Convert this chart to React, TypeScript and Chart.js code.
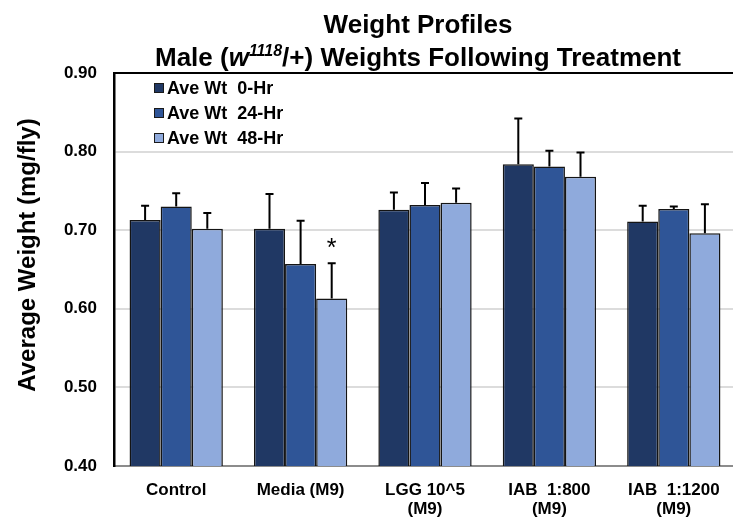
import React, { useEffect, useRef } from "react";
import { Chart, registerables } from "chart.js";

Chart.register(...registerables);

// ---- data ----
const categories: (string | string[])[] = [
  "Control",
  "Media (M9)",
  ["LGG 10^5", "(M9)"],
  ["IAB  1:800", "(M9)"],
  ["IAB  1:1200", "(M9)"],
];
const seriesLabels = ["Ave Wt  0-Hr", "Ave Wt  24-Hr", "Ave Wt  48-Hr"];
const seriesColors = ["#203864", "#2F5597", "#8FAADC"];
const wt0 = [0.713, 0.702, 0.726, 0.784, 0.711];
const wt24 = [0.73, 0.657, 0.732, 0.781, 0.727];
const wt48 = [0.702, 0.613, 0.735, 0.768, 0.696];
const err0 = [0.018, 0.044, 0.022, 0.058, 0.02];
const err24 = [0.017, 0.055, 0.028, 0.02, 0.003];
const err48 = [0.02, 0.045, 0.018, 0.031, 0.037];
const yMin = 0.4;
const yMax = 0.9;
const yStep = 0.1;
const titleText = "Weight Profiles";
const yTitleText = "Average Weight (mg/fly)";
// significance marker: series index, category index
const sigMarks = [{ series: 2, index: 1, mark: "*" }];

const FONT = "'Liberation Sans', Arial, Helvetica, sans-serif";

const decorPlugin = {
  id: "decor",
  afterDatasetsDraw(chart: any) {
    const ctx = chart.ctx as CanvasRenderingContext2D;
    const yScale = chart.scales.y;
    ctx.save();
    ctx.strokeStyle = "#000";
    ctx.lineWidth = 2;
    chart.data.datasets.forEach((ds: any, di: number) => {
      const meta = chart.getDatasetMeta(di);
      meta.data.forEach((bar: any, i: number) => {
        const v = ds.data[i];
        const e = ds.errors[i];
        const yTop = yScale.getPixelForValue(v + e);
        ctx.beginPath();
        ctx.moveTo(bar.x, bar.y);
        ctx.lineTo(bar.x, yTop);
        ctx.moveTo(bar.x - 4, yTop);
        ctx.lineTo(bar.x + 4, yTop);
        ctx.stroke();
      });
    });
    // significance marks
    ctx.fillStyle = "#000";
    ctx.font = `25px ${FONT}`;
    ctx.textAlign = "center";
    ctx.textBaseline = "alphabetic";
    sigMarks.forEach((m) => {
      const ds = chart.data.datasets[m.series];
      const bar = chart.getDatasetMeta(m.series).data[m.index];
      const yTop = yScale.getPixelForValue(ds.data[m.index] + ds.errors[m.index]);
      ctx.fillText(m.mark, bar.x, yTop - 7);
    });
    ctx.restore();
  },
  afterDraw(chart: any) {
    const ctx = chart.ctx as CanvasRenderingContext2D;
    const area = chart.chartArea;
    ctx.save();
    // top border
    ctx.strokeStyle = "#000";
    ctx.lineWidth = 2;
    ctx.beginPath();
    ctx.moveTo(area.left - 1, area.top);
    ctx.lineTo(area.right, area.top);
    ctx.stroke();

    const cx = (area.left + area.right) / 2 - 7;
    // main title
    ctx.fillStyle = "#000";
    ctx.textAlign = "center";
    ctx.textBaseline = "alphabetic";
    ctx.font = `bold 26px ${FONT}`;
    ctx.fillText(titleText, cx, 33);

    // subtitle with italic + superscript
    const parts = [
      { t: "Male (", f: `bold 26px ${FONT}`, dy: 0 },
      { t: "w", f: `italic bold 26px ${FONT}`, dy: 0 },
      { t: "1118", f: `italic bold 16px ${FONT}`, dy: -10 },
      { t: "/+) Weights Following Treatment", f: `bold 26px ${FONT}`, dy: 0 },
    ];
    let total = 0;
    parts.forEach((p) => {
      ctx.font = p.f;
      total += ctx.measureText(p.t).width;
    });
    let x = cx - total / 2;
    ctx.textAlign = "left";
    parts.forEach((p) => {
      ctx.font = p.f;
      ctx.fillText(p.t, x, 66 + p.dy);
      x += ctx.measureText(p.t).width;
    });

    // y axis title
    ctx.save();
    ctx.translate(28, 255);
    ctx.rotate(-Math.PI / 2);
    ctx.textAlign = "center";
    ctx.textBaseline = "middle";
    ctx.font = `bold 24px ${FONT}`;
    ctx.fillText(yTitleText, 0, 0);
    ctx.restore();

    // legend (inside plot, top-left)
    const lx = area.left + 40;
    const ly = area.top + 15;
    chart.data.datasets.forEach((ds: any, i: number) => {
      const yy = ly + i * 25;
      ctx.fillStyle = ds.backgroundColor;
      ctx.fillRect(lx, yy - 5, 10, 10);
      ctx.strokeStyle = "#1a1a1a";
      ctx.lineWidth = 1;
      ctx.strokeRect(lx + 0.5, yy - 4.5, 9, 9);
      ctx.fillStyle = "#000";
      ctx.font = `bold 18px ${FONT}`;
      ctx.textAlign = "left";
      ctx.textBaseline = "middle";
      ctx.fillText(ds.label, lx + 13, yy + 1);
    });
    ctx.restore();
  },
};

export default function App() {
  const ref = useRef<HTMLCanvasElement | null>(null);
  useEffect(() => {
    if (!ref.current) return;
    const values = [wt0, wt24, wt48];
    const errors = [err0, err24, err48];
    const chart = new Chart(ref.current, {
      type: "bar",
      data: {
        labels: categories,
        datasets: values.map((v, i) => ({
          label: seriesLabels[i],
          data: v,
          errors: errors[i],
          backgroundColor: seriesColors[i],
          borderColor: "#141414",
          borderWidth: 1.5,
          barPercentage: 1,
          categoryPercentage: 0.75,
        })) as any,
      },
      options: {
        responsive: false,
        animation: false,
        devicePixelRatio: 1,
        layout: { padding: { top: 73, right: 2, left: 0, bottom: 0 } },
        plugins: {
          legend: { display: false },
          title: { display: false },
          tooltip: { enabled: false },
        },
        scales: {
          x: {
            grid: { display: false, drawTicks: false },
            border: { display: true, color: "#8c8c8c", width: 2 },
            ticks: {
              color: "#000",
              font: { family: FONT, size: 17, weight: "bold", lineHeight: 1.1 },
              padding: 15,
              maxRotation: 0,
              autoSkip: false,
            },
            afterFit: (s: any) => {
              s.height = 51;
            },
          },
          y: {
            min: yMin,
            max: yMax,
            ticks: {
              stepSize: yStep,
              color: "#000",
              font: { family: FONT, size: 17, weight: "bold" },
              padding: 17,
              callback: (v: any) => Number(v).toFixed(2),
            },
            grid: {
              color: (c: any) =>
                c.tick && c.tick.value > yMin + 0.01 && c.tick.value < yMax - 0.01
                  ? "#dcdcdc"
                  : "rgba(0,0,0,0)",
              lineWidth: 2,
              drawTicks: false,
            },
            border: { display: true, color: "#000", width: 2.5 },
            afterFit: (s: any) => {
              s.width = 114;
            },
          },
        },
      } as any,
      plugins: [decorPlugin],
    });
    return () => chart.destroy();
  }, []);

  return (
    <div
      style={{
        position: "fixed",
        left: 0,
        top: 0,
        width: 733,
        height: 517,
        overflow: "hidden",
        background: "#fff",
      }}
    >
      <canvas ref={ref} width={738} height={517} />
    </div>
  );
}
